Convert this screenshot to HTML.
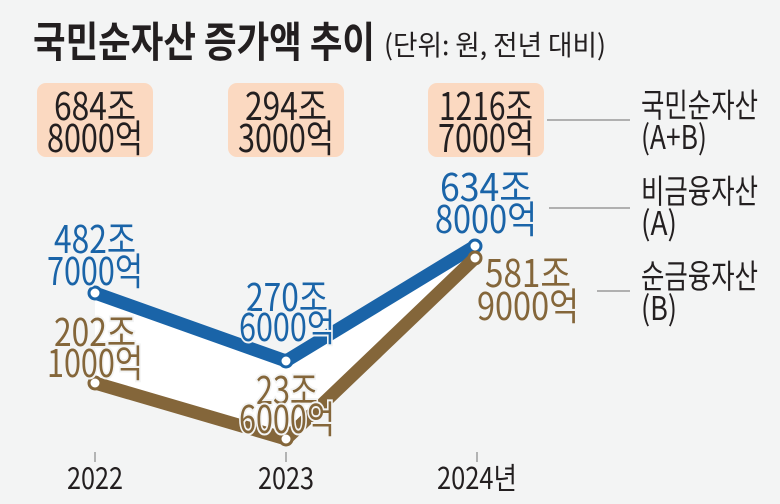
<!DOCTYPE html>
<html><head><meta charset="utf-8"><style>
html,body{margin:0;padding:0;background:#f3f4f4}
svg{display:block}
</style></head><body>
<svg width="780" height="504" viewBox="0 0 780 504" xmlns="http://www.w3.org/2000/svg">
<rect width="780" height="504" fill="#f3f4f4"/>
<text x="33" y="57" font-size="42" font-weight="bold" fill="#231f20" textLength="342" lengthAdjust="spacingAndGlyphs" font-family="Noto Sans CJK KR, sans-serif">국민순자산 증가액 추이</text>
<text x="384" y="55" font-size="28" fill="#231f20" textLength="222" lengthAdjust="spacingAndGlyphs" font-family="Noto Sans CJK KR, sans-serif">(단위: 원, 전년 대비)</text>

<rect x="37" y="83" width="116" height="74" rx="9" fill="#fbd9c1"/>
<rect x="228" y="83" width="116" height="74" rx="9" fill="#fbd9c1"/>
<rect x="428" y="83" width="116" height="74" rx="9" fill="#fbd9c1"/>

<g font-size="38" fill="#231f20" text-anchor="middle" font-family="Noto Sans CJK KR, sans-serif">
<text x="95" y="120" textLength="82" lengthAdjust="spacingAndGlyphs">684조</text>
<text x="95" y="152" textLength="96" lengthAdjust="spacingAndGlyphs">8000억</text>
<text x="286" y="120" textLength="82" lengthAdjust="spacingAndGlyphs">294조</text>
<text x="286" y="152" textLength="96" lengthAdjust="spacingAndGlyphs">3000억</text>
<text x="486" y="120" textLength="94" lengthAdjust="spacingAndGlyphs">1216조</text>
<text x="486" y="152" textLength="96" lengthAdjust="spacingAndGlyphs">7000억</text>
</g>

<polygon points="95,293 286,361 475,246 475,258 286,439 95,383" fill="#ffffff"/>
<polyline points="95,293 286,361 475,246" fill="none" stroke="#1a64a8" stroke-width="13" stroke-linejoin="round"/>
<polyline points="95,383 286,439 475,258" fill="none" stroke="#84663a" stroke-width="13" stroke-linejoin="round"/>
<g fill="#ffffff" stroke-width="3">
<circle cx="95" cy="293" r="6" stroke="#1a64a8"/>
<circle cx="286" cy="361" r="6" stroke="#1a64a8"/>
<circle cx="475" cy="246" r="6" stroke="#1a64a8"/>
<circle cx="95" cy="383" r="6" stroke="#84663a"/>
<circle cx="286" cy="439" r="6" stroke="#84663a"/>
<circle cx="475" cy="258" r="6" stroke="#84663a"/>
</g>

<g font-size="38" text-anchor="middle" font-family="Noto Sans CJK KR, sans-serif" stroke="#f3f4f4" stroke-width="4" paint-order="stroke">
<text x="95" y="253" fill="#1a64a8" textLength="82" lengthAdjust="spacingAndGlyphs">482조</text>
<text x="95" y="285" fill="#1a64a8" textLength="96" lengthAdjust="spacingAndGlyphs">7000억</text>
<text x="287" y="311" fill="#1a64a8" textLength="82" lengthAdjust="spacingAndGlyphs">270조</text>
<text x="287" y="341" fill="#1a64a8" textLength="96" lengthAdjust="spacingAndGlyphs">6000억</text>
<text x="486" y="201" fill="#1a64a8" textLength="92" lengthAdjust="spacingAndGlyphs">634조</text>
<text x="486" y="233" fill="#1a64a8" textLength="102" lengthAdjust="spacingAndGlyphs">8000억</text>
<text x="95" y="346" fill="#84663a" textLength="82" lengthAdjust="spacingAndGlyphs">202조</text>
<text x="95" y="377" fill="#84663a" textLength="96" lengthAdjust="spacingAndGlyphs">1000억</text>
<text x="287" y="404" fill="#84663a" textLength="62" lengthAdjust="spacingAndGlyphs">23조</text>
<text x="287" y="433" fill="#84663a" textLength="96" lengthAdjust="spacingAndGlyphs">6000억</text>
<text x="528" y="287" fill="#84663a" textLength="86" lengthAdjust="spacingAndGlyphs">581조</text>
<text x="528" y="320" fill="#84663a" textLength="102" lengthAdjust="spacingAndGlyphs">9000억</text>
</g>

<g stroke="#888" stroke-width="1.2">
<line x1="547" y1="120" x2="630" y2="120"/>
<line x1="549" y1="208" x2="630" y2="208"/>
<line x1="597" y1="291" x2="630" y2="291"/>
<line x1="95" y1="452" x2="95" y2="462"/>
<line x1="286" y1="452" x2="286" y2="462"/>
<line x1="477" y1="452" x2="477" y2="462"/>
</g>

<g font-size="33" fill="#231f20" font-family="Noto Sans CJK KR, sans-serif">
<text x="641" y="117" textLength="117" lengthAdjust="spacingAndGlyphs">국민순자산</text>
<text x="641" y="149" textLength="66" lengthAdjust="spacingAndGlyphs">(A+B)</text>
<text x="641" y="203" textLength="117" lengthAdjust="spacingAndGlyphs">비금융자산</text>
<text x="641" y="235" textLength="36" lengthAdjust="spacingAndGlyphs">(A)</text>
<text x="641" y="288" textLength="117" lengthAdjust="spacingAndGlyphs">순금융자산</text>
<text x="641" y="320" textLength="36" lengthAdjust="spacingAndGlyphs">(B)</text>
</g>

<g font-size="30" fill="#231f20" text-anchor="middle" font-family="Noto Sans CJK KR, sans-serif">
<text x="95" y="489" textLength="56" lengthAdjust="spacingAndGlyphs">2022</text>
<text x="286" y="489" textLength="56" lengthAdjust="spacingAndGlyphs">2023</text>
<text x="477" y="489" textLength="80" lengthAdjust="spacingAndGlyphs">2024년</text>
</g>
</svg>
</body></html>
